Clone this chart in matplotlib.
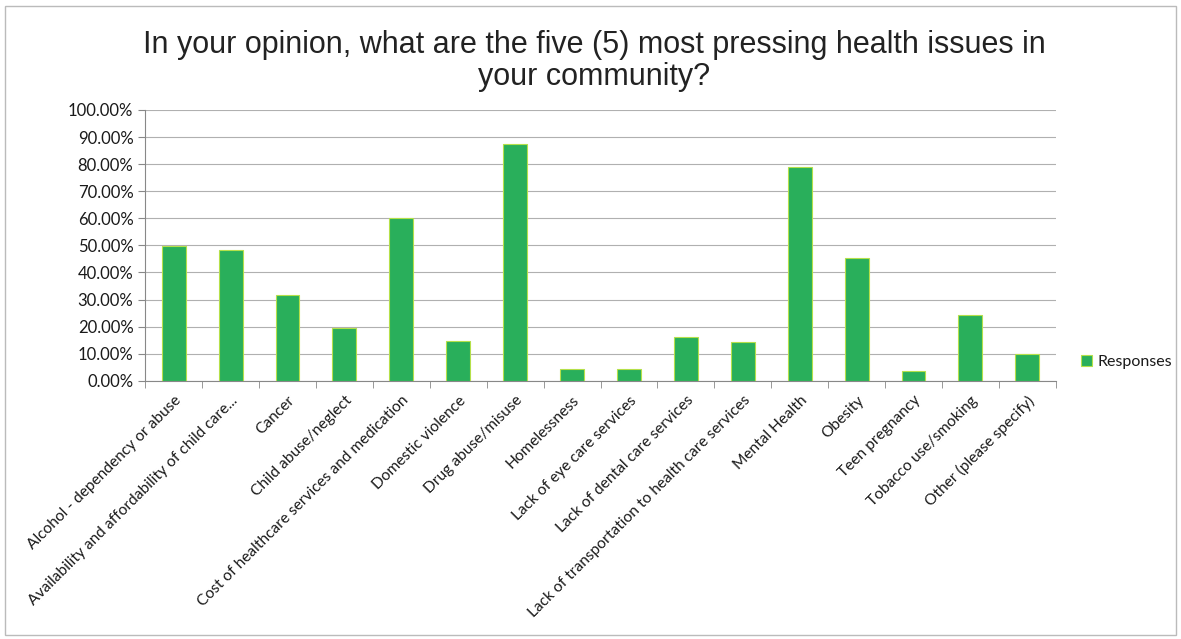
import numpy as np
import matplotlib.pyplot as plt
from matplotlib.ticker import FuncFormatter, FixedLocator

categories = ['Alcohol - dependency or abuse',
              'Availability and affordability of child care...',
              'Cancer',
              'Child abuse/neglect',
              'Cost of healthcare services and medication',
              'Domestic violence',
              'Drug abuse/misuse',
              'Homelessness',
              'Lack of eye care services',
              'Lack of dental care services',
              'Lack of transportation to health care services',
              'Mental Health',
              'Obesity',
              'Teen pregnancy',
              'Tobacco use/smoking',
              'Other (please specify)']
responses = [49.7, 48.2, 31.8, 19.5, 60.1, 14.8, 87.4, 4.4, 4.4, 16.2, 14.2, 79.0, 45.2, 3.6, 24.3, 9.9]

title = 'In your opinion, what are the five (5) most pressing health issues in\nyour community?'

fig = plt.figure(figsize=(11.81, 6.39), dpi=100)
ax = fig.add_axes([0.123, 0.404, 0.771, 0.424])

x = np.arange(len(categories))
ax.bar(x, responses, width=0.42, color='#29af5b', edgecolor='#b5e04a', linewidth=0.8,
       label='Responses', zorder=3)

ax.set_ylim(0, 100)
ax.set_xlim(-0.5, len(categories) - 0.5)
ax.set_yticks(np.arange(0, 101, 10))
ax.yaxis.set_major_formatter(FuncFormatter(lambda v, p: '%.2f%%' % v))
ax.grid(axis='y', color='#b0b0b0', linewidth=0.8, zorder=0)

ax.set_xticks(x)
ax.set_xticklabels(categories, rotation=45, ha='right', rotation_mode='anchor',
                   fontsize=11.2, family='Lato', color='#1a1a1a')
ax.tick_params(axis='x', which='major', length=0, pad=9)
ax.xaxis.set_minor_locator(FixedLocator(np.arange(-0.5, len(categories), 1)))
ax.tick_params(axis='x', which='minor', length=5, color='#888888')
ax.tick_params(axis='y', length=5, color='#888888', labelsize=12, labelcolor='#1a1a1a')
for lab in ax.get_yticklabels():
    lab.set_family('Lato')

for s in ['top', 'right']:
    ax.spines[s].set_visible(False)
for s in ['left', 'bottom']:
    ax.spines[s].set_color('#888888')

leg = ax.legend(loc='center left', bbox_to_anchor=(1.012, 0.07), frameon=False,
                handlelength=0.7, handleheight=0.7, handletextpad=0.35,
                prop={'family': 'Lato', 'size': 11.5})
for t in leg.get_texts():
    t.set_color('#1a1a1a')

fig.text(0.503, 0.904, title, ha='center', va='center', fontsize=22,
         family='Liberation Sans', color='#222222', linespacing=1.08)

# scanned page frame
fig.patches.append(plt.Rectangle((0.004, 0.006), 0.992, 0.985, transform=fig.transFigure,
                                 fill=False, edgecolor='#bbbbbb', linewidth=1))

fig.savefig('out.png', dpi=100)
